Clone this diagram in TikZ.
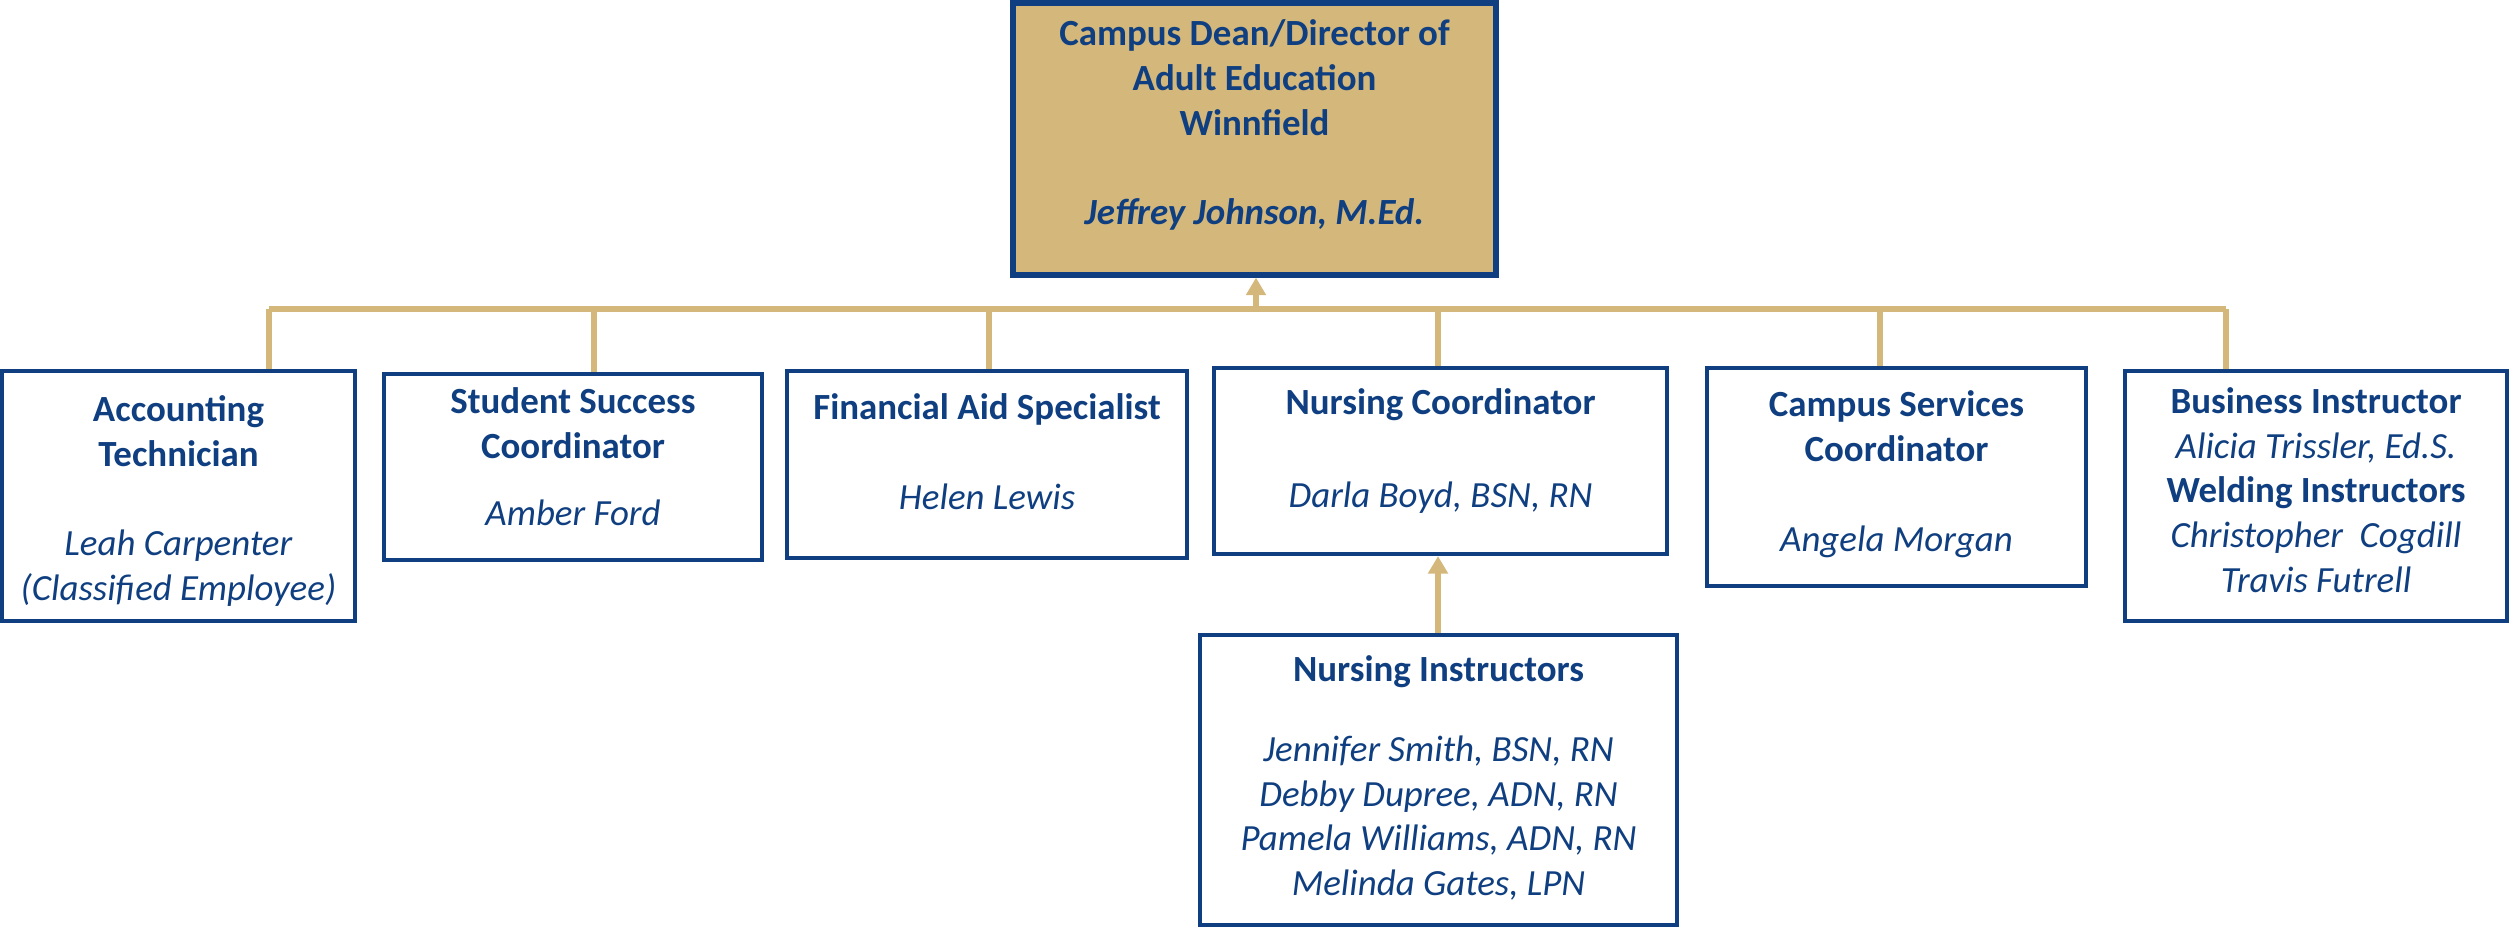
\documentclass[tikz,border=0pt]{standalone}
\usepackage{fontspec}
\setmainfont{Carlito}
\usetikzlibrary{arrows.meta}
\definecolor{lpblue}{HTML}{0F3F80}
\definecolor{lpgold}{HTML}{D4B77A}
\newcommand{\blankline}{12.75pt}
\tikzstyle{post}=[draw=lpblue, line width=1.2pt, inner sep=0]
\tikzstyle{headpost}=[post, fill=lpgold, line width=1.5pt]
% text sits a little off the box centre, so it goes in a label
\tikzstyle{posttext}=[text=lpblue, align=center, inner sep=0, font=\fontsize{10.5}{12.75}\selectfont]
\tikzstyle{link}=[draw=lpgold, line width=1.5pt]
\tikzstyle{uplink}=[link, -{Triangle[length=5pt, width=5.5pt]}]

\begin{document}
\begin{tikzpicture}
        \useasboundingbox (0, 0) rectangle (25.09, -9.29);
        % the dean
        \node[headpost, minimum width=4.83cm, minimum height=2.72cm,
              label={[posttext, name=DeanText, yshift=0.14cm]center:\textbf{Campus Dean/Director of}\\\textbf{Adult Education}\\\textbf{Winnfield}\\[\blankline]\textbf{\textit{Jeffrey Johnson, M.Ed.}}}]
            (Dean) at (12.545, -1.39) {};
        % staff row
        \node[post, minimum width=3.53cm, minimum height=2.50cm,
              label={[posttext, name=AcctText, yshift=-0.05cm]center:\textbf{Accounting}\\\textbf{Technician}\\[\blankline]\textit{Leah Carpenter}\\\textit{(Classified Employee)}}]
            (Acct) at (1.785, -4.96) {};
        \node[post, minimum width=3.78cm, minimum height=1.86cm,
              label={[posttext, name=SuccessText, yshift=0.10cm]center:\textbf{Student Success}\\\textbf{Coordinator}\\[6.4pt]\textit{Amber Ford}}]
            (Success) at (5.73, -4.67) {};
        \node[post, minimum width=4.00cm, minimum height=1.87cm,
              label={[posttext, name=FinAidText, yshift=0.13cm]center:\textbf{Financial Aid Specialist}\\[\blankline]\textit{Helen Lewis}}]
            (FinAid) at (9.87, -4.645) {};
        \node[post, minimum width=4.53cm, minimum height=1.86cm,
              label={[posttext, name=NursCoordText, yshift=0.10cm]center:\textbf{Nursing Coordinator}\\[13.5pt]\textit{Darla Boyd, BSN, RN}}]
            (NursCoord) at (14.405, -4.61) {};
        \node[post, minimum width=3.79cm, minimum height=2.18cm,
              label={[posttext, name=ServicesText, yshift=0.03cm]center:\textbf{Campus Services}\\\textbf{Coordinator}\\[\blankline]\textit{Angela Morgan}}]
            (Services) at (18.965, -4.77) {};
        \node[post, minimum width=3.82cm, minimum height=2.50cm,
              label={[posttext, name=BusinessText, yshift=0.06cm]center:\textbf{Business Instructor}\\\textit{Alicia Trissler, Ed.S.}\\\textbf{Welding Instructors}\\\textit{Christopher\ \ Cogdill}\\\textit{Travis Futrell}}]
            (Business) at (23.16, -4.96) {};
        \node[post, minimum width=4.77cm, minimum height=2.90cm,
              label={[posttext, name=NursInstrText, yshift=0.02cm]center:\textbf{Nursing Instructors}\\[10pt]\textit{Jennifer Smith, BSN, RN}\\\textit{Debby Dupree, ADN, RN}\\\textit{Pamela Williams, ADN, RN}\\\textit{Melinda Gates, LPN}}]
            (NursInstr) at (14.385, -7.80) {};
        % bus line
        \coordinate (busW) at (2.69, -3.09);
        \coordinate (busE) at (22.26, -3.09);
        \coordinate (busUp) at (12.56, -3.09);
        \draw[link] (busW) -- (busE);
        \draw[uplink] (busUp) -- (busUp |- Dean.south);
        \draw[link] (busW) -- (busW |- Acct.north);
        \draw[link] (5.94, -3.09) -- (5.94, 0 |- Success.north);
        \draw[link] (9.89, -3.09) -- (9.89, 0 |- FinAid.north);
        \draw[link] (14.38, -3.09) -- (14.38, 0 |- NursCoord.north);
        \draw[link] (18.80, -3.09) -- (18.80, 0 |- Services.north);
        \draw[link] (busE) -- (busE |- Business.north);
        \draw[uplink] (NursInstr.north -| 14.38, 0) -- (14.38, 0 |- NursCoord.south);
    \end{tikzpicture}
\end{document}
